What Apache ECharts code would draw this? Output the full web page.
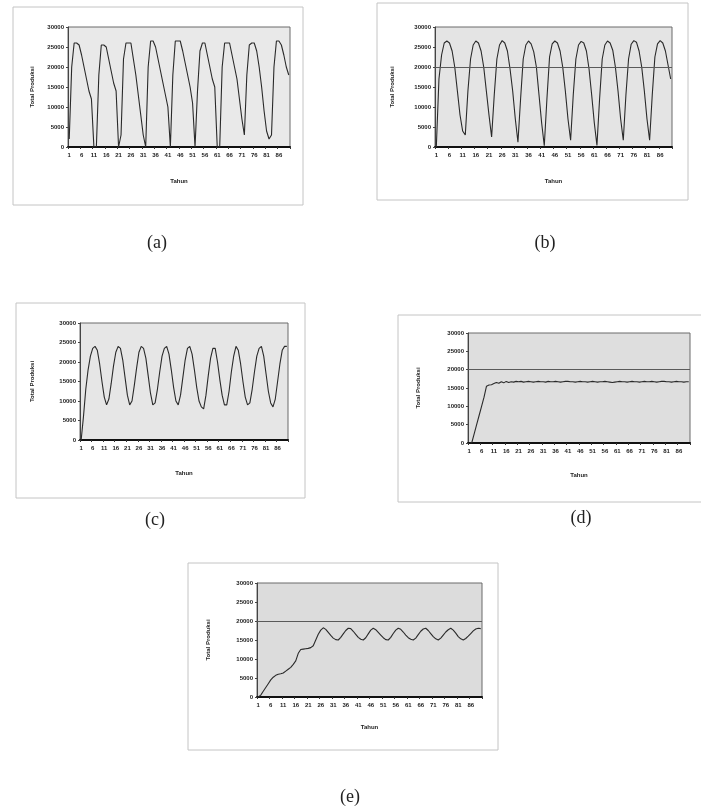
<!DOCTYPE html>
<html>
<head>
<meta charset="utf-8">
<script src="https://cdn.jsdelivr.net/npm/echarts@6/dist/echarts.min.js"></script>
<style>
html,body{margin:0;padding:0;background:#fff;}
#c{width:701px;height:811px;}
</style>
</head>
<body>
<div id="c"></div>
<script>
// ---- DATA ----
const categories = ['1','2','3','4','5','6','7','8','9','10','11','12','13','14','15','16','17','18','19','20',
'21','22','23','24','25','26','27','28','29','30','31','32','33','34','35','36','37','38','39','40',
'41','42','43','44','45','46','47','48','49','50','51','52','53','54','55','56','57','58','59','60',
'61','62','63','64','65','66','67','68','69','70','71','72','73','74','75','76','77','78','79','80',
'81','82','83','84','85','86','87','88','89','90'];

const yMin = 0, yMax = 30000, yStep = 5000;
const yAxisTitle = 'Total Produksi';
const xAxisTitle = 'Tahun';
const captions = ['(a)', '(b)', '(c)', '(d)', '(e)'];
const thresholdValue = 20000;

const seriesA = [
 2000, 20000, 26000, 26000, 25500, 23000, 20000, 17000, 14000, 12000,
 0, 0, 18000, 25500, 25500, 25000, 22000, 19000, 16000, 14000,
 0, 3000, 22000, 26000, 26000, 26000, 22000, 18000, 13000, 8000,
 3000, 0, 20000, 26500, 26500, 25000, 22000, 19000, 16000, 13000,
 10000, 0, 18000, 26500, 26500, 26500, 24000, 21000, 18000, 15000,
 11000, 0, 14000, 24000, 26000, 26000, 23000, 20000, 17000, 15000,
 0, 0, 20000, 26000, 26000, 26000, 23000, 20000, 17000, 12000,
 7000, 3000, 18000, 25500, 26000, 26000, 24000, 20000, 15000, 9000,
 4000, 2000, 3000, 20000, 26500, 26500, 25500, 23000, 20000, 18000];

const seriesB = [
 0, 17000, 23000, 26000, 26500, 26000, 24000, 20000, 14000, 8000,
 4000, 3000, 14000, 22000, 25500, 26500, 26000, 24000, 20000, 14000,
 8000, 2500, 13000, 22000, 25500, 26600, 26000, 24000, 19500, 14000,
 7000, 1200, 12000, 22000, 25500, 26500, 25800, 23800, 20000, 13000,
 6000, 300, 12000, 22500, 25800, 26500, 26000, 24000, 20000, 14000,
 7000, 1700, 13000, 22000, 25500, 26400, 26000, 24000, 19500, 13000,
 6000, 400, 12000, 22000, 25500, 26500, 26000, 24200, 20000, 14000,
 7000, 1700, 13000, 22000, 25700, 26600, 26200, 24000, 20000, 14000,
 7000, 1700, 13000, 22500, 25800, 26600, 26000, 24000, 20500, 17000];

const seriesC = [
 0, 6000, 13000, 18000, 21500, 23500, 24000, 23000, 19500, 15000,
 11000, 9000, 10500, 14500, 19000, 22500, 24000, 23500, 20500, 16000,
 11500, 9000, 10000, 14000, 18500, 22500, 24000, 23500, 21000, 16500,
 12000, 9000, 9500, 13000, 17500, 21500, 23500, 24000, 22000, 18000,
 13500, 10000, 9000, 11500, 16000, 20500, 23500, 24000, 22000, 18000,
 13500, 10000, 8500, 8000, 11500, 16500, 21000, 23500, 23500, 20000,
 15500, 11500, 9000, 9000, 12500, 17500, 21500, 24000, 23000, 19500,
 15000, 11000, 9000, 9500, 13000, 17500, 21500, 23500, 24000, 21500,
 17000, 12500, 9500, 8500, 10500, 15000, 19500, 23000, 24000, 24000];

const seriesD = [
 0, 0, 2500, 5000, 7500, 10000, 12500, 15500, 15800, 15900,
 16200, 16500, 16300, 16700, 16400, 16800, 16500, 16700, 16600, 16800,
 16700, 16800, 16600, 16700, 16800, 16700, 16600, 16700, 16800, 16700,
 16700, 16600, 16800, 16700, 16700, 16800, 16700, 16600, 16700, 16800,
 16800, 16700, 16700, 16600, 16700, 16800, 16700, 16700, 16600, 16700,
 16800, 16700, 16600, 16700, 16700, 16800, 16700, 16600, 16500, 16600,
 16700, 16800, 16700, 16700, 16600, 16700, 16800, 16700, 16700, 16600,
 16700, 16800, 16700, 16700, 16800, 16700, 16600, 16700, 16800, 16800,
 16700, 16700, 16600, 16700, 16800, 16700, 16700, 16600, 16700, 16700];

const seriesE = [
 0, 500, 1500, 2500, 3500, 4500, 5200, 5700, 6000, 6100,
 6300, 6800, 7300, 7800, 8600, 9500, 11500, 12500, 12600, 12700,
 12800, 13000, 13500, 15000, 16500, 17600, 18200, 17800, 17000, 16200,
 15500, 15100, 15000, 15700, 16600, 17500, 18100, 18000, 17300, 16500,
 15700, 15200, 15000, 15600, 16600, 17600, 18100, 17700, 17000, 16300,
 15600, 15100, 15000, 15700, 16700, 17600, 18100, 17800, 17100, 16300,
 15600, 15200, 15000, 15500, 16400, 17300, 17900, 18100, 17500, 16700,
 15900, 15300, 15000, 15500, 16300, 17100, 17700, 18100, 17600, 16800,
 15900, 15300, 15000, 15400, 16000, 16700, 17400, 17900, 18100, 18000];

const allSeries = [seriesA, seriesB, seriesC, seriesD, seriesE];
const hasThreshold = [false, true, false, true, true];

// ---- LAYOUT (styling only) ----
const panels = [
  {left:68,  top:27,  width:222, height:120, yGap:33, xGap:31, bg:'#e9e9e9', frame:[13,7,290,198],  cap:[157,243]},
  {left:435, top:27,  width:237, height:120, yGap:40, xGap:31, bg:'#e4e4e4', frame:[377,3,311,197], cap:[545,243]},
  {left:80,  top:323, width:208, height:117, yGap:45, xGap:30, bg:'#e6e6e6', frame:[16,303,289,195], cap:[155,520]},
  {left:468, top:333, width:222, height:110, yGap:47, xGap:29, bg:'#dedede', frame:[398,315,310,187], cap:[581,518]},
  {left:257, top:583, width:225, height:114, yGap:46, xGap:27, bg:'#dcdcdc', frame:[188,563,310,187], cap:[350,797]}
];

const grids = [], xAxes = [], yAxes = [], series = [], graphics = [];
panels.forEach((p, i) => {
  grids.push({left:p.left, top:p.top, width:p.width, height:p.height, show:true,
    backgroundColor:p.bg, borderColor:'#6a6a6a', borderWidth:1, containLabel:false});
  xAxes.push({type:'category', gridIndex:i, data:categories, boundaryGap:true,
    axisLine:{show:true, lineStyle:{color:'#111', width:2}},
    axisTick:{show:true, interval:4, length:2, lineStyle:{color:'#333'}},
    axisLabel:{interval:4, fontSize:6, color:'#222', margin:5, fontFamily:'Liberation Sans', fontWeight:'bold', hideOverlap:false},
    splitLine:{show:false},
    name:xAxisTitle, nameLocation:'middle', nameGap:p.xGap,
    nameTextStyle:{fontSize:6, color:'#222', fontWeight:'bold', fontFamily:'Liberation Sans'}});
  yAxes.push({type:'value', gridIndex:i, min:yMin, max:yMax, interval:yStep,
    axisLine:{show:true, lineStyle:{color:'#444', width:1}},
    axisTick:{show:true, length:2, lineStyle:{color:'#444'}},
    axisLabel:{fontSize:6, color:'#222', margin:4, fontFamily:'Liberation Sans', fontWeight:'bold',
      formatter: v => String(v)},
    splitLine:{show:false},
    name:yAxisTitle, nameLocation:'middle', nameRotate:90, nameGap:p.yGap,
    nameTextStyle:{fontSize:6, color:'#222', fontWeight:'bold', fontFamily:'Liberation Sans'}});
  const s = {type:'line', xAxisIndex:i, yAxisIndex:i, data:allSeries[i], showSymbol:false,
    lineStyle:{color:'#2a2a2a', width:1.1}, animation:false, silent:true};
  if (hasThreshold[i]) {
    s.markLine = {silent:true, symbol:'none', animation:false, label:{show:false},
      lineStyle:{color:'#5a5a5a', type:'solid', width:1}, data:[{yAxis:thresholdValue}]};
  }
  series.push(s);
  graphics.push({type:'rect', shape:{x:p.frame[0], y:p.frame[1], width:p.frame[2], height:p.frame[3]},
    style:{fill:'none', stroke:'#c4c4c4', lineWidth:1}, silent:true});
  graphics.push({type:'text', x:p.cap[0], y:p.cap[1],
    style:{text:captions[i], align:'center', verticalAlign:'middle', fill:'#222',
      font:'18px "Liberation Serif"'}, silent:true});
});

const chart = echarts.init(document.getElementById('c'), null, {renderer:'canvas'});
chart.setOption({
  backgroundColor:'#ffffff',
  animation:false,
  grid:grids, xAxis:xAxes, yAxis:yAxes, series:series, graphic:graphics
});
</script>
</body>
</html>
